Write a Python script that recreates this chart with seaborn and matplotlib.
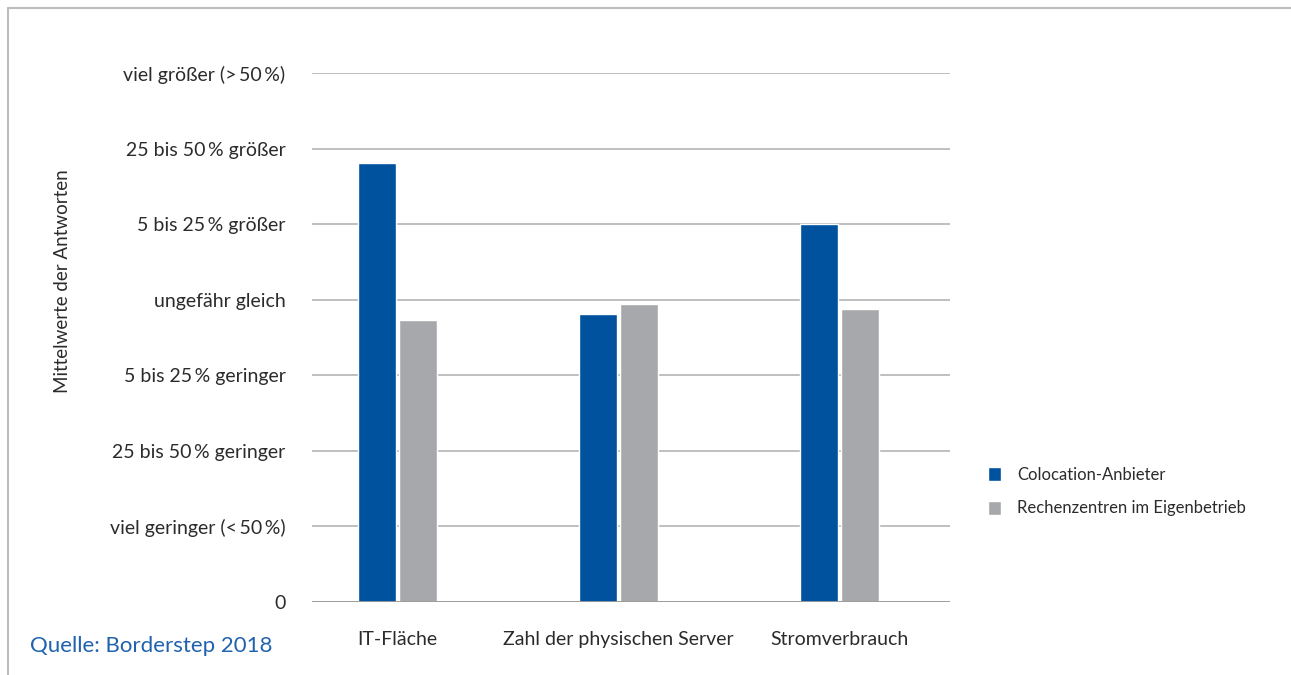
import matplotlib
matplotlib.use("Agg")
import matplotlib.pyplot as plt
from matplotlib.patches import Patch
import seaborn as sns
import pandas as pd

# Survey data: mean answers on an ordinal 0..7 scale
categories = ["IT-Fläche", "Zahl der physischen Server", "Stromverbrauch"]
colocation = [5.81, 3.81, 5.00]
eigenbetrieb = [3.73, 3.94, 3.88]
series_names = ["Colocation-Anbieter", "Rechenzentren im Eigenbetrieb"]
tick_labels = [
    "0",
    "viel geringer (<\u200950\u2009%)",
    "25 bis 50\u2009% geringer",
    "5 bis 25\u2009% geringer",
    "ungefähr gleich",
    "5 bis 25\u2009% größer",
    "25 bis 50\u2009% größer",
    "viel größer (>\u200950\u2009%)",
]

df = pd.DataFrame({
    "Kategorie": categories * 2,
    "Wert": colocation + eigenbetrieb,
    "Gruppe": [series_names[0]] * 3 + [series_names[1]] * 3,
})

sns.set_theme(style="white")
plt.rcParams["font.family"] = ["Lato", "DejaVu Sans"]

blue = "#00529f"
grey = "#a7a8ab"
text_col = "#2b2b2b"
grid_col = "#b4b4b4"

fig = plt.figure(figsize=(12.91, 6.75), dpi=100)
ax = fig.add_axes([312 / 1291, 1 - 602 / 675, (950 - 312) / 1291, (602 - 73) / 675])

sns.barplot(
    data=df, x="Kategorie", y="Wert", hue="Gruppe",
    palette=[blue, grey], width=0.371, gap=0.073,
    saturation=1, legend=False, ax=ax, zorder=3,
)

ax.set_xlim(-0.387, 2.5)
ax.set_ylim(0, 7)
ax.set_yticks(range(8))
ax.set_yticklabels(tick_labels, fontsize=14, color=text_col)
ax.tick_params(axis="y", length=0, pad=19)
ax.tick_params(axis="x", length=0, pad=21, labelsize=14, labelcolor=text_col)
ax.set_xlabel("")
ax.set_ylabel("Mittelwerte der Antworten", fontsize=13.5, color=text_col)
ax.yaxis.set_label_coords(-0.377, 0.607)
ax.yaxis.grid(True, color=grid_col, linewidth=1.2, zorder=0)
ax.set_axisbelow(True)
for s in ax.spines.values():
    s.set_visible(False)
ax.axhline(0, color="#9a9a9a", linewidth=1.3, zorder=4)

handles = [Patch(facecolor=blue, label=series_names[0]),
           Patch(facecolor=grey, label=series_names[1])]
fig.legend(handles=handles, loc="upper left", bbox_to_anchor=(973 / 1291, 1 - 452 / 675),
           frameon=False, fontsize=12, handlelength=0.75, handleheight=0.9,
           handletextpad=1.0, labelspacing=1.05, labelcolor=text_col)

fig.text(30 / 1291, 1 - 646 / 675, "Quelle: Borderstep 2018", fontsize=16,
         color="#1f62ad", va="center", ha="left")

# thin frame line along the top and left edge
fig.add_artist(plt.Line2D([8 / 1291, 1], [1 - 8 / 675, 1 - 8 / 675],
                          transform=fig.transFigure, color="#bdbdbd", linewidth=1.5))
fig.add_artist(plt.Line2D([8 / 1291, 8 / 1291], [0, 1 - 8 / 675],
                          transform=fig.transFigure, color="#bdbdbd", linewidth=1.5))

fig.savefig("out.png", dpi=100, facecolor="white")
